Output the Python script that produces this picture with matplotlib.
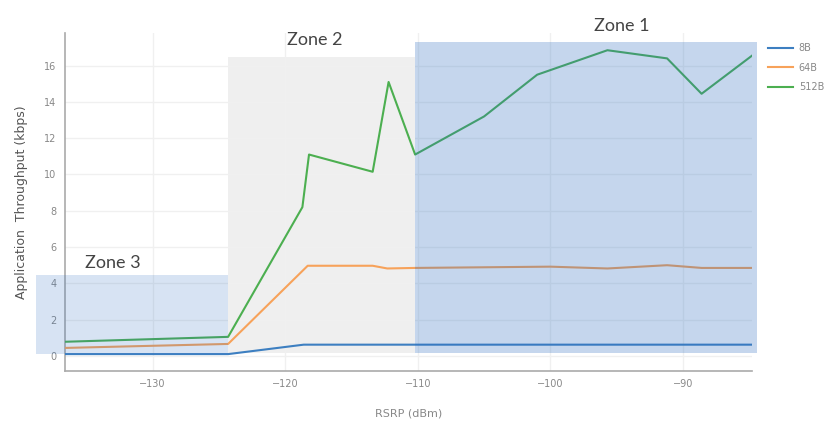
import matplotlib
matplotlib.use("Agg")
import matplotlib.pyplot as plt
from matplotlib.patches import Rectangle

# Data
x_8b = [-136.6, -124.3, -118.6, -110.2, -100, -95.7, -91.2, -88.6, -84.8]
y_8b = [0.1, 0.1, 0.62, 0.62, 0.62, 0.62, 0.62, 0.62, 0.62]

x_64b = [-136.6, -124.3, -118.3, -113.4, -112.3, -110.2, -100, -95.7, -91.2, -88.6, -84.8]
y_64b = [0.44, 0.66, 4.97, 4.97, 4.82, 4.85, 4.92, 4.82, 5.0, 4.85, 4.85]

x_512b = [-136.6, -124.3, -118.7, -118.2, -113.4, -112.2, -110.2, -105, -101.0, -95.7, -91.2, -88.6, -84.8]
y_512b = [0.78, 1.05, 8.2, 11.1, 10.15, 15.1, 11.1, 13.2, 15.5, 16.85, 16.4, 14.45, 16.55]

series_labels = ["8B", "64B", "512B"]
series_colors = ["#3d7fc1", "#f7a25a", "#4caf50"]

# Zones: (x0, x1, y0, y1)
zone1 = (-110.2, -84.4, 0.15, 17.3)
zone2 = (-124.3, -110.2, 0.15, 16.45)
zone3 = (-138.8, -124.3, 0.1, 4.47)
zone_labels = ["Zone 1", "Zone 2", "Zone 3"]

xticks = [-130, -120, -110, -100, -90]
yticks = [0, 2, 4, 6, 8, 10, 12, 14, 16]

fig = plt.figure(figsize=(8.3, 4.23), dpi=100)
ax = fig.add_axes([0.0783, 0.123, 0.8277, 0.799])
ax.set_xlim(-136.6, -84.8)
ax.set_ylim(-0.83, 17.8)

ax.set_xticks(xticks)
ax.set_yticks(yticks)
ax.set_xticklabels(["\u2212%d" % abs(v) for v in xticks])
ax.grid(True, color="#f0f0f0", linewidth=1.0, zorder=0)
ax.tick_params(length=0, labelsize=7, colors="#888888", pad=6)
for s in ["top", "right"]:
    ax.spines[s].set_visible(False)
for s in ["left", "bottom"]:
    ax.spines[s].set_color("#aaaaaa")
    ax.spines[s].set_linewidth(1.2)

# Zone 2 gray background (below lines)
ax.add_patch(Rectangle((zone2[0], zone2[2]), zone2[1] - zone2[0], zone2[3] - zone2[2],
                       facecolor="#efefef", edgecolor="none", zorder=1))

lines = []
for xs, ys, c, lab in zip([x_8b, x_64b, x_512b], [y_8b, y_64b, y_512b], series_colors, series_labels):
    ln, = ax.plot(xs, ys, color=c, linewidth=1.5, label=lab, zorder=3)
    lines.append(ln)

# Zones 1 and 3 semi-transparent blue overlays
ax.add_patch(Rectangle((zone1[0], zone1[2]), zone1[1] - zone1[0], zone1[3] - zone1[2],
                       facecolor="#2f6fc0", alpha=0.28, edgecolor="none", zorder=4, clip_on=False))
ax.add_patch(Rectangle((zone3[0], zone3[2]), zone3[1] - zone3[0], zone3[3] - zone3[2],
                       facecolor="#2f6fc0", alpha=0.19, edgecolor="none", zorder=4, clip_on=False))

ax.text(-94.6, 17.75, zone_labels[0], fontsize=13, color="#444444", ha="center", va="bottom",
        family="Lato", clip_on=False)
ax.text(-117.8, 17.0, zone_labels[1], fontsize=13, color="#444444", ha="center", va="bottom",
        family="Lato", clip_on=False)
ax.text(-133.0, 4.7, zone_labels[2], fontsize=13, color="#444444", ha="center", va="bottom",
        family="Lato", clip_on=False)

ax.set_xlabel("RSRP (dBm)", fontsize=8, color="#888888", labelpad=14)
ax.set_ylabel("Application  Throughput (kbps)", fontsize=9, color="#555555", labelpad=12)

leg = ax.legend(handles=lines, loc="upper left", bbox_to_anchor=(1.01, 0.995), frameon=False,
                fontsize=7, handlelength=2.6, labelspacing=0.95, handletextpad=0.6)
for t in leg.get_texts():
    t.set_color("#888888")

fig.savefig("out.png", dpi=100)
